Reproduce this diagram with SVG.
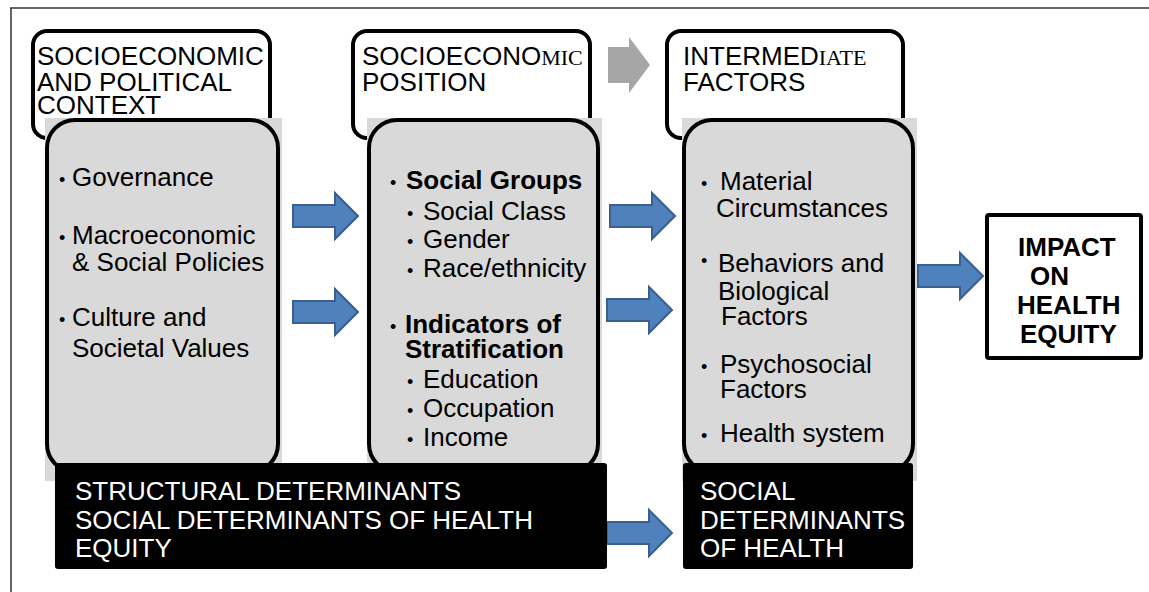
<svg xmlns="http://www.w3.org/2000/svg" width="1149" height="592" viewBox="0 0 1149 592">
  <style>
    .t { font-family: "Liberation Sans", Arial, sans-serif; font-size: 26px; fill: #000; }
    .b { font-weight: bold; }
    .w { fill: #fff; }
    .s { font-family: "Liberation Serif", "Times New Roman", serif; font-size: 22px; fill: #000; }
    .bul { font-family: "Liberation Sans", Arial, sans-serif; font-size: 18px; fill: #000; }
    .hdr { fill: #fff; stroke: #000; stroke-width: 4; }
    .bg { fill: #D9D9D9; }
    .gbox { fill: #D9D9D9; stroke: #000; stroke-width: 4; }
    .blk { fill: #000; }
    .arr { fill: #4F81BD; stroke: #3A5F8F; stroke-width: 2; }
  </style>
  <defs>
    <path id="barrow" d="M0,12 H42 V0 L65,23 L42,46 V34 H0 Z"/>
  </defs>
  <rect width="1149" height="592" fill="#fff"/>
  <g id="frame" fill="none" stroke="#333" stroke-width="1.5">
    <line x1="10" y1="8" x2="1149" y2="8"/>
    <line x1="11" y1="8" x2="11" y2="592"/>
  </g>

  <g id="header-context">
    <rect class="hdr" x="33" y="31" width="237" height="107" rx="14"/>
    <text class="t" x="37" y="65">SOCIOECONOMIC</text>
    <text class="t" x="37" y="91">AND POLITICAL</text>
    <text class="t" x="37" y="114">CONTEXT</text>
  </g>
  <g id="header-position">
    <rect class="hdr" x="353" y="31" width="237" height="107" rx="14"/>
    <text x="362" y="65"><tspan class="t">SOCIOECONO</tspan><tspan class="s">MIC</tspan></text>
    <text class="t" x="362" y="91">POSITION</text>
  </g>
  <g id="header-intermediate">
    <rect class="hdr" x="667" y="31" width="236" height="107" rx="14"/>
    <text x="683" y="65"><tspan class="t">INTERMED</tspan><tspan class="s">IATE</tspan></text>
    <text class="t" x="683" y="91">FACTORS</text>
  </g>

  <g id="context">
    <rect class="bg" x="45" y="118" width="237" height="363"/>
    <rect class="gbox" x="47" y="120" width="231" height="352" rx="28"/>
    <text class="bul" x="59" y="186">•</text><text class="t" x="72" y="186">Governance</text>
    <text class="bul" x="59" y="244">•</text><text class="t" x="72" y="244">Macroeconomic</text>
    <text class="t" x="72" y="271">&amp; Social Policies</text>
    <text class="bul" x="59" y="326">•</text><text class="t" x="72" y="326">Culture and</text>
    <text class="t" x="72" y="357">Societal Values</text>
  </g>

  <g id="position">
    <rect class="bg" x="367" y="118" width="235" height="363"/>
    <rect class="gbox" x="369" y="120" width="229" height="352" rx="28"/>
    <text class="bul" x="390" y="189">•</text><text class="t b" x="406" y="189">Social Groups</text>
    <text class="bul" x="407" y="220">•</text><text class="t" x="423" y="220">Social Class</text>
    <text class="bul" x="407" y="248">•</text><text class="t" x="423" y="248">Gender</text>
    <text class="bul" x="407" y="277">•</text><text class="t" x="423" y="277">Race/ethnicity</text>
    <text class="bul" x="390" y="333">•</text><text class="t b" x="405" y="333">Indicators of</text>
    <text class="t b" x="405" y="358">Stratification</text>
    <text class="bul" x="407" y="388">•</text><text class="t" x="423" y="388">Education</text>
    <text class="bul" x="407" y="417">•</text><text class="t" x="423" y="417">Occupation</text>
    <text class="bul" x="407" y="446">•</text><text class="t" x="423" y="446">Income</text>
  </g>

  <g id="intermediate">
    <rect class="bg" x="682" y="118" width="235" height="363"/>
    <rect class="gbox" x="684" y="120" width="229" height="352" rx="28"/>
    <text class="bul" x="701" y="190">•</text><text class="t" x="720" y="190">Material</text>
    <text class="t" x="716" y="217">Circumstances</text>
    <text class="bul" x="701" y="267">•</text><text class="t" x="718" y="272">Behaviors and</text>
    <text class="t" x="718" y="300">Biological</text>
    <text class="t" x="721" y="325">Factors</text>
    <text class="bul" x="701" y="373">•</text><text class="t" x="720" y="373">Psychosocial</text>
    <text class="t" x="720" y="398">Factors</text>
    <text class="bul" x="701" y="442">•</text><text class="t" x="720" y="442">Health system</text>
  </g>

  <g id="impact">
    <rect x="987" y="215" width="154" height="143" rx="2" fill="#fff" stroke="#000" stroke-width="4"/>
    <text class="t b" x="1018" y="256">IMPACT</text>
    <text class="t b" x="1030" y="285">ON</text>
    <text class="t b" x="1017" y="314">HEALTH</text>
    <text class="t b" x="1020" y="343">EQUITY</text>
  </g>

  <g id="connectors">
    <path d="M608,47 H629 V37 L650,65 L629,93 V83 H608 Z" fill="#A6A6A6"/>
    <use href="#barrow" class="arr" transform="translate(293,193)"/>
    <use href="#barrow" class="arr" transform="translate(293,289)"/>
    <use href="#barrow" class="arr" transform="translate(610,193)"/>
    <use href="#barrow" class="arr" transform="translate(607,287)"/>
    <use href="#barrow" class="arr" transform="translate(918,253)"/>
    <use href="#barrow" class="arr" transform="translate(607,510)"/>
  </g>

  <g id="structural">
    <rect class="blk" x="55" y="463" width="552" height="106" rx="3"/>
    <text class="t w" x="75" y="500">STRUCTURAL DETERMINANTS</text>
    <text class="t w" x="75" y="529">SOCIAL DETERMINANTS OF HEALTH</text>
    <text class="t w" x="75" y="557">EQUITY</text>
  </g>
  <g id="social-determinants">
    <rect class="blk" x="683" y="463" width="230" height="106" rx="3"/>
    <text class="t w" x="700" y="500">SOCIAL</text>
    <text class="t w" x="700" y="529">DETERMINANTS</text>
    <text class="t w" x="700" y="557">OF HEALTH</text>
  </g>
</svg>
